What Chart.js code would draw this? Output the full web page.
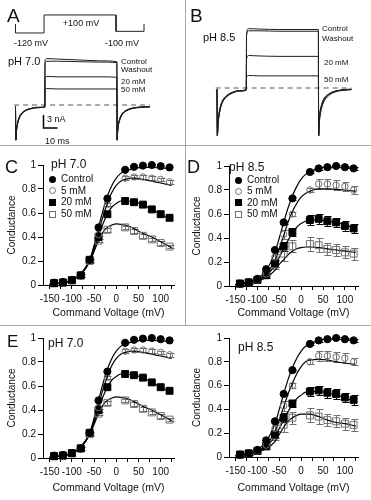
<!DOCTYPE html>
<html>
<head>
<meta charset="utf-8">
<script src="https://cdn.jsdelivr.net/npm/chart.js@4.4.1/dist/chart.umd.min.js"></script>
<style>
  body { margin: 0; background: #fff; }
  #fig { position: relative; width: 371px; height: 500px; overflow: hidden;
         font-family: "Liberation Sans", Arial, sans-serif; color: #111; }
  canvas { position: absolute; }
  .t { position: absolute; line-height: 1; white-space: nowrap; }
  .c { transform: translateX(-50%); }
  .sep { position: absolute; background: #a8a8a8; }
  .mk { position: absolute; width: 7px; height: 7px; box-sizing: border-box; }
</style>
</head>
<body>
<div id="fig">
  <canvas id="cA" width="185" height="145" style="left:0;top:0"></canvas>
  <canvas id="cB" width="186" height="145" style="left:185px;top:0"></canvas>
  <canvas id="cC" width="185" height="180" style="left:0;top:145px"></canvas>
  <canvas id="cD" width="186" height="180" style="left:185px;top:145px"></canvas>
  <canvas id="cE1" width="185" height="175" style="left:0;top:325px"></canvas>
  <canvas id="cE2" width="186" height="175" style="left:185px;top:325px"></canvas>

  <div class="sep" style="left:185px;top:0;width:1px;height:325px"></div>
  <div class="sep" style="left:0;top:145px;width:371px;height:1px"></div>
  <div class="sep" style="left:0;top:325px;width:371px;height:1px"></div>

  <!-- A -->
  <div class="t" style="left:7px;top:5.5px;font-size:19px">A</div>
  <div class="t c" style="left:81px;top:18.5px;font-size:9px">+100 mV</div>
  <div class="t c" style="left:31px;top:39px;font-size:9px">-120 mV</div>
  <div class="t c" style="left:122px;top:38.5px;font-size:9px">-100 mV</div>
  <div class="t" style="left:8px;top:55.5px;font-size:11px">pH 7.0</div>
  <div class="t" style="left:121px;top:58px;font-size:8px">Control</div>
  <div class="t" style="left:121px;top:66px;font-size:8px">Washout</div>
  <div class="t" style="left:121px;top:78px;font-size:8px">20 mM</div>
  <div class="t" style="left:121px;top:86px;font-size:8px">50 mM</div>
  <div class="t" style="left:47px;top:115px;font-size:9px">3 nA</div>
  <div class="t" style="left:45px;top:136.5px;font-size:9px">10 ms</div>

  <!-- B -->
  <div class="t" style="left:190px;top:6px;font-size:19px">B</div>
  <div class="t" style="left:203px;top:31.5px;font-size:11px">pH 8.5</div>
  <div class="t" style="left:322px;top:25px;font-size:8px">Control</div>
  <div class="t" style="left:322px;top:34.5px;font-size:8px">Washout</div>
  <div class="t" style="left:324px;top:58.5px;font-size:8px">20 mM</div>
  <div class="t" style="left:324px;top:76px;font-size:8px">50 mM</div>

  <!-- C -->
  <div class="t" style="left:5px;top:157.5px;font-size:18px">C</div>
  <div class="t" style="left:51px;top:158px;font-size:12px">pH 7.0</div>
  <div class="mk" style="left:48.5px;top:175.5px;border-radius:50%;background:#000"></div>
  <div class="mk" style="left:48.5px;top:187px;border-radius:50%;border:1px solid #707070"></div>
  <div class="mk" style="left:48.5px;top:198.5px;background:#000"></div>
  <div class="mk" style="left:48.5px;top:210.5px;border:1px solid #707070"></div>
  <div class="t" style="left:61px;top:174px;font-size:10px">Control</div>
  <div class="t" style="left:61px;top:185.5px;font-size:10px">5 mM</div>
  <div class="t" style="left:61px;top:197px;font-size:10px">20 mM</div>
  <div class="t" style="left:61px;top:209px;font-size:10px">50 mM</div>

  <!-- D -->
  <div class="t" style="left:187px;top:157.5px;font-size:18px">D</div>
  <div class="t" style="left:229px;top:161px;font-size:12px">pH 8.5</div>
  <div class="mk" style="left:234.5px;top:176.5px;border-radius:50%;background:#000"></div>
  <div class="mk" style="left:234.5px;top:187.5px;border-radius:50%;border:1px solid #707070"></div>
  <div class="mk" style="left:234.5px;top:199px;background:#000"></div>
  <div class="mk" style="left:234.5px;top:210.5px;border:1px solid #707070"></div>
  <div class="t" style="left:247px;top:175px;font-size:10px">Control</div>
  <div class="t" style="left:247px;top:186px;font-size:10px">5 mM</div>
  <div class="t" style="left:247px;top:197.5px;font-size:10px">20 mM</div>
  <div class="t" style="left:247px;top:209px;font-size:10px">50 mM</div>

  <!-- E -->
  <div class="t" style="left:7px;top:332.5px;font-size:17px">E</div>
  <div class="t" style="left:48px;top:336.5px;font-size:12px">pH 7.0</div>
  <div class="t" style="left:238px;top:341px;font-size:12px">pH 8.5</div>
</div>

<script>
const FONT = '"Liberation Sans", Arial, sans-serif';

// ---- A / B: current traces (time in ms, current in nA) ----
const traceT = [0, 0.25, 0.8, 1.6, 2.6, 4, 7, 11, 16, 20.9,
                21.1, 22.5, 30, 45, 60, 72.4,
                72.6, 72.9, 73.4, 74.2, 75.2, 76.6, 79.6, 83.6, 88.6, 96];

const a_control = [-0.3,-8.1,-5.8,-4.3,-3.2,-2.3,-1.4,-0.9,-0.6,-0.5, 10.3,10.7,10.6,10.4,10.2,10.0, -8.1,-6.5,-5.0,-3.8,-2.9,-2.1,-1.3,-0.8,-0.6,-0.4];
const a_washout = [-0.3,-8.1,-5.6,-4.1,-3.0,-2.2,-1.3,-0.8,-0.6,-0.5, 9.7,10.1,10.1,10.0,9.9,9.8, -8.1,-6.3,-4.8,-3.6,-2.7,-2.0,-1.2,-0.8,-0.5,-0.4];
const a_20mM    = [-0.3,-8.1,-5.5,-4.0,-2.9,-2.1,-1.3,-0.8,-0.6,-0.5, 6.2,6.6,6.5,6.5,6.5,6.4, -8.1,-6.2,-4.7,-3.5,-2.6,-1.9,-1.2,-0.7,-0.5,-0.4];
const a_50mM    = [-0.3,-8.1,-5.4,-3.9,-2.8,-2.0,-1.2,-0.8,-0.5,-0.5, 3.4,3.8,3.7,3.7,3.7,3.7, -8.1,-6.1,-4.6,-3.4,-2.5,-1.8,-1.1,-0.7,-0.5,-0.4];

const b_control = [-0.3,-11,-8.2,-6.2,-4.6,-3.3,-2.0,-1.2,-0.7,-0.5, 12.5,13.7,13.6,13.5,13.5,13.5, -11,-9.0,-7.0,-5.4,-4.1,-3.0,-1.8,-1.0,-0.6,-0.4];
const b_washout = [-0.3,-11,-8.0,-6.0,-4.4,-3.1,-1.9,-1.1,-0.7,-0.5, 12.1,13.2,13.2,13.1,13.1,13.1, -11,-8.6,-6.6,-5.0,-3.8,-2.7,-1.6,-0.9,-0.5,-0.35];
const b_20mM    = [-0.3,-11,-7.7,-5.7,-4.2,-3.0,-1.8,-1.0,-0.6,-0.45, 6.6,7.5,7.4,7.3,7.3,7.3, -11,-8.2,-6.2,-4.7,-3.5,-2.5,-1.5,-0.8,-0.5,-0.3];
const b_50mM    = [-0.3,-11,-7.4,-5.4,-4.0,-2.8,-1.7,-1.0,-0.6,-0.4, 2.5,2.9,2.8,2.8,2.8,2.8, -11,-7.8,-5.8,-4.4,-3.3,-2.3,-1.4,-0.8,-0.45,-0.25];

// voltage protocol (mV)
const protoT = [0, 0, 20.4, 20.4, 71.8, 71.8, 91.8, 91.8];
const protoV = [-10, -120, -120, 100, 100, -100, -100, -10];

// zero-current line and scale bar (10 ms, 3 nA)
const baseT = [-1, 96];
const baseI = [0, 0];
const barT = [20, 20, 30];
const barI = [-2.3, -5.3, -5.3];

// ---- C / D / E: conductance-voltage ----
const vSteps = [-140,-120,-100,-80,-60,-40,-20,20,40,60,80,100,120];
const fitV = [-150,-140,-120,-100,-80,-60,-50,-40,-30,-20,-10,0,10,20,40,60,80,100,125];
const xTickVals = [-150,-125,-100,-75,-50,-25,0,25,50,75,100,125];
const xLabels = [-150,-100,-50,0,50,100];
const yTickVals = [0, 0.2, 0.4, 0.6, 0.8, 1];

// pH 7.0
const c_control = [0.02,0.025,0.04,0.08,0.21,0.48,0.72,0.96,0.985,0.995,1.0,0.99,0.98];
const c_5mM     = [0.02,0.025,0.04,0.08,0.20,0.42,0.67,0.89,0.90,0.90,0.89,0.88,0.86];
const c_20mM    = [0.015,0.02,0.04,0.08,0.21,0.40,0.59,0.70,0.69,0.67,0.63,0.59,0.56];
const c_50mM    = [0.015,0.02,0.04,0.08,0.20,0.37,0.46,0.48,0.45,0.41,0.38,0.35,0.32];
const c_5mM_err  = [0,0,0,0.01,0.01,0.015,0.015,0.015,0.015,0.015,0.015,0.015,0.015];
const c_50mM_err = [0,0,0,0.01,0.015,0.015,0.015,0.015,0.015,0.015,0.015,0.015,0.015];

const c_fitControl = [0.005,0.01,0.02,0.04,0.09,0.21,0.33,0.48,0.62,0.74,0.83,0.89,0.93,0.95,0.97,0.98,0.98,0.975,0.97];
const c_fit5mM     = [0.005,0.01,0.02,0.04,0.09,0.20,0.31,0.44,0.57,0.68,0.77,0.83,0.865,0.88,0.89,0.88,0.865,0.85,0.83];
const c_fit20mM    = [0.005,0.01,0.02,0.04,0.09,0.20,0.30,0.41,0.51,0.59,0.65,0.68,0.70,0.70,0.69,0.67,0.63,0.59,0.54];
const c_fit50mM    = [0.005,0.01,0.02,0.04,0.09,0.19,0.28,0.37,0.44,0.48,0.50,0.51,0.505,0.50,0.47,0.43,0.40,0.36,0.31];

// pH 8.5
const d_control = [0.02,0.03,0.06,0.14,0.30,0.53,0.73,0.95,0.98,0.99,1.0,0.99,0.98];
const d_5mM     = [0.02,0.03,0.05,0.10,0.24,0.43,0.60,0.80,0.85,0.85,0.84,0.83,0.80];
const d_20mM    = [0.02,0.03,0.05,0.09,0.19,0.33,0.45,0.55,0.56,0.54,0.53,0.50,0.48];
const d_50mM    = [0.02,0.03,0.05,0.09,0.18,0.27,0.33,0.35,0.34,0.31,0.30,0.28,0.27];
const d_control_err = [0,0,0,0.01,0.01,0.01,0.01,0.01,0.01,0.01,0.01,0.01,0.01];
const d_5mM_err  = [0.01,0.01,0.01,0.02,0.03,0.04,0.02,0.02,0.04,0.04,0.04,0.04,0.03];
const d_20mM_err = [0.01,0.01,0.01,0.02,0.03,0.04,0.03,0.04,0.04,0.04,0.04,0.04,0.04];
const d_50mM_err = [0.01,0.01,0.01,0.02,0.04,0.06,0.05,0.06,0.06,0.05,0.05,0.05,0.05];

const d_fitControl = [0.01,0.02,0.03,0.06,0.13,0.28,0.40,0.53,0.65,0.75,0.83,0.89,0.93,0.95,0.98,0.99,0.99,0.985,0.98];
const d_fit5mM     = [0.01,0.015,0.025,0.05,0.10,0.21,0.31,0.42,0.53,0.62,0.69,0.74,0.77,0.79,0.81,0.81,0.805,0.80,0.79];
const d_fit20mM    = [0.01,0.015,0.025,0.045,0.09,0.17,0.24,0.31,0.38,0.44,0.49,0.52,0.54,0.55,0.55,0.54,0.53,0.51,0.48];
const d_fit50mM    = [0.01,0.015,0.02,0.04,0.07,0.13,0.18,0.22,0.26,0.29,0.31,0.32,0.325,0.325,0.32,0.31,0.30,0.29,0.28];

const e_fit5mM  = [0.01,0.015,0.025,0.05,0.10,0.21,0.31,0.42,0.53,0.62,0.70,0.76,0.80,0.815,0.82,0.815,0.80,0.79,0.775];
const e_fit20mM = [0.01,0.015,0.025,0.045,0.09,0.17,0.24,0.31,0.38,0.44,0.49,0.52,0.545,0.55,0.55,0.54,0.52,0.50,0.46];
const e_fit50mM = [0.01,0.015,0.02,0.04,0.07,0.13,0.19,0.25,0.30,0.33,0.35,0.36,0.36,0.36,0.34,0.31,0.29,0.28,0.26];

const xy = (xs, ys) => xs.map((x, i) => ({ x: x, y: ys[i] }));

// vertical error bars with caps, drawn under the markers
const errorBars = {
  id: 'errorBars',
  beforeDatasetsDraw(chart) {
    const ctx = chart.ctx, sx = chart.scales.x, sy = chart.scales.y;
    chart.data.datasets.forEach(ds => {
      if (!ds.errors) return;
      ctx.save();
      ctx.strokeStyle = ds.errColor;
      ctx.lineWidth = 1;
      ds.data.forEach((p, i) => {
        const e = ds.errors[i];
        if (!e) return;
        const px = Math.round(sx.getPixelForValue(p.x)) + 0.5;
        const y1 = Math.round(sy.getPixelForValue(p.y + e)) + 0.5;
        const y2 = Math.round(sy.getPixelForValue(p.y - e)) + 0.5;
        ctx.beginPath();
        ctx.moveTo(px, y1); ctx.lineTo(px, y2);
        ctx.moveTo(px - 3, y1); ctx.lineTo(px + 4, y1);
        ctx.moveTo(px - 3, y2); ctx.lineTo(px + 4, y2);
        ctx.stroke();
      });
      ctx.restore();
    });
  }
};

function line(data, extra) {
  return Object.assign({
    data: data, showLine: true, pointRadius: 0, borderColor: '#1e1e1e',
    borderWidth: 1, tension: 0, clip: false
  }, extra || {});
}

function traceChart(id, xr, yr, datasets, y2r) {
  const scales = {
    x: { type: 'linear', display: false, min: xr[0], max: xr[1] },
    y: { type: 'linear', display: false, min: yr[0], max: yr[1] }
  };
  if (y2r) scales.y2 = { type: 'linear', axis: 'y', display: false, min: y2r[0], max: y2r[1] };
  return new Chart(document.getElementById(id), {
    type: 'scatter',
    data: { datasets: datasets },
    options: {
      responsive: false, animation: false, events: [],
      layout: { padding: 0 },
      plugins: { legend: { display: false }, tooltip: { enabled: false } },
      scales: scales
    }
  });
}

const mono = { cubicInterpolationMode: 'monotone' };
const dashed = { borderDash: [5, 4], borderColor: '#555' };

traceChart('cA', [-11.07, 121.07], [-9.23, 24.23], [
  line(xy(traceT, a_control), mono),
  line(xy(traceT, a_washout), mono),
  line(xy(traceT, a_20mM), mono),
  line(xy(traceT, a_50mM), mono),
  line(xy(baseT, baseI), dashed),
  line(xy(barT, barI), { borderColor: '#000', borderWidth: 1.5 }),
  line(xy(protoT, protoV), { yAxisID: 'y2', borderColor: '#222' })
], [-1489, 283]);

traceChart('cB', [-22.86, 110], [-13.15, 20.31], [
  line(xy(traceT, b_control), mono),
  line(xy(traceT, b_washout), mono),
  line(xy(traceT, b_20mM), mono),
  line(xy(traceT, b_50mM), mono),
  line(xy(baseT, baseI), dashed)
]);

const markers = [
  { pointStyle: 'circle', pointRadius: 3.6, backgroundColor: '#000', borderColor: '#000', borderWidth: 1 },
  { pointStyle: 'circle', pointRadius: 3.2, backgroundColor: 'rgba(0,0,0,0)', borderColor: '#707070', borderWidth: 1 },
  { pointStyle: 'rect', pointRadius: 4.9, backgroundColor: '#000', borderColor: '#000', borderWidth: 1 },
  { pointStyle: 'rect', pointRadius: 4.9, backgroundColor: 'rgba(0,0,0,0)', borderColor: '#707070', borderWidth: 1 }
];
const errColors = ['#000', '#707070', '#000', '#707070'];

function condChart(id, vals, errs, fits, g) {
  const datasets = [];
  vals.forEach((v, k) => datasets.push(Object.assign({
    data: xy(vSteps, v), errors: errs[k], errColor: errColors[k], clip: false, showLine: false
  }, markers[k])));
  fits.forEach(f => datasets.push({
    data: xy(fitV, f), showLine: true, pointRadius: 0, borderColor: '#000',
    borderWidth: 1.2, cubicInterpolationMode: 'monotone', clip: false
  }));
  const tickFont = { family: FONT, size: 10 };
  return new Chart(document.getElementById(id), {
    type: 'scatter',
    data: { datasets: datasets },
    plugins: [errorBars],
    options: {
      responsive: false, animation: false, events: [],
      layout: { padding: { top: g.top, right: g.right, left: 0, bottom: 0 } },
      plugins: { legend: { display: false }, tooltip: { enabled: false } },
      scales: {
        x: {
          type: 'linear', min: -165, max: 130,
          afterBuildTicks: s => { s.ticks = xTickVals.map(v => ({ value: v })); },
          afterFit: s => { s.height = g.xh; },
          grid: { drawOnChartArea: false, drawTicks: true, tickLength: 4, color: '#000' },
          border: { color: '#000', width: 1 },
          ticks: { autoSkip: false, maxRotation: 0, padding: 4, color: '#111', font: tickFont,
                   callback: v => xLabels.includes(v) ? String(v) : '' },
          title: { display: true, text: 'Command Voltage (mV)', color: '#111',
                   font: { family: FONT, size: 10.5 }, padding: { top: 0, bottom: 5.5 } }
        },
        y: {
          type: 'linear', min: 0, max: 1,
          afterBuildTicks: s => { s.ticks = yTickVals.map(v => ({ value: v })); },
          afterFit: s => { s.width = g.yw; },
          grid: { drawOnChartArea: false, drawTicks: true, tickLength: 5, color: '#000' },
          border: { color: '#000', width: 1 },
          ticks: { padding: 2, color: '#111', font: tickFont, callback: v => String(v) },
          title: { display: true, text: 'Conductance', color: '#111',
                   font: { family: FONT, size: 10 }, padding: { top: 6, bottom: 0 } }
        }
      }
    }
  });
}

const none = [0,0,0,0,0,0,0,0,0,0,0,0,0];

condChart('cC', [c_control, c_5mM, c_20mM, c_50mM], [none, c_5mM_err, none, c_50mM_err],
  [c_fitControl, c_fit5mM, c_fit20mM, c_fit50mM], { top: 20, right: 11, xh: 40, yw: 43 });

condChart('cD', [d_control, d_5mM, d_20mM, d_50mM], [d_control_err, d_5mM_err, d_20mM_err, d_50mM_err],
  [d_fitControl, d_fit5mM, d_fit20mM, d_fit50mM], { top: 21, right: 13, xh: 39, yw: 44 });

condChart('cE1', [c_control, c_5mM, c_20mM, c_50mM], [none, c_5mM_err, none, c_50mM_err],
  [c_fitControl, c_fit5mM, c_fit20mM, c_fit50mM], { top: 13, right: 11, xh: 42, yw: 43 });

condChart('cE2', [d_control, d_5mM, d_20mM, d_50mM], [d_control_err, d_5mM_err, d_20mM_err, d_50mM_err],
  [d_fitControl, e_fit5mM, e_fit20mM, e_fit50mM], { top: 13, right: 13, xh: 43, yw: 44 });
</script>
</body>
</html>
